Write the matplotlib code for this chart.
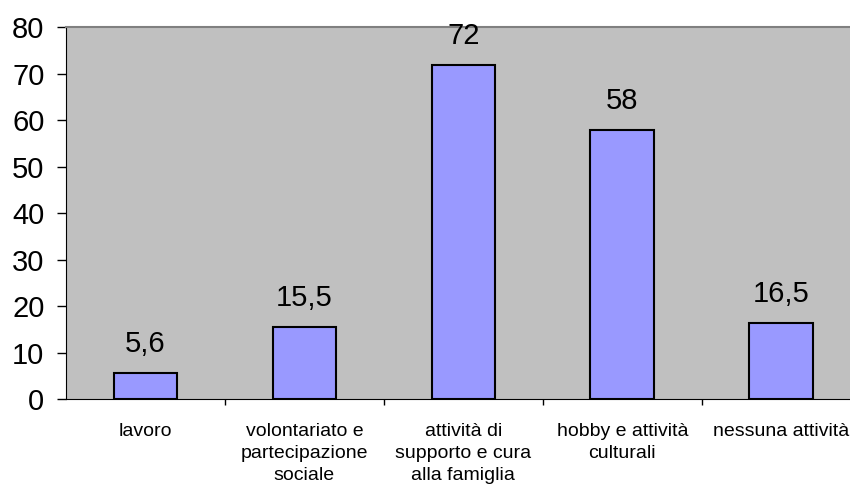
import matplotlib.pyplot as plt
import matplotlib as mpl

mpl.rc('font', family=['Liberation Sans', 'DejaVu Sans'])

# data
categories = ['lavoro', 'volontariato e\npartecipazione\nsociale',
              'attività di\nsupporto e cura\nalla famiglia',
              'hobby e attività\nculturali', 'nessuna attività']
values = [5.6, 15.5, 72, 58, 16.5]
value_labels = ['5,6', '15,5', '72', '58', '16,5']

fig = plt.figure(figsize=(8.5, 4.91), dpi=100)
# plot area runs slightly past the right edge of the image, as in the original
ax = fig.add_axes([0.0776, 0.187, 0.935, 0.757])
ax.set_facecolor('#C0C0C0')

x = list(range(len(categories)))
ax.bar(x, values, width=0.40, color='#9999FF', edgecolor='black', linewidth=1.5, zorder=3)

for xi, v, lab in zip(x, values, value_labels):
    ax.annotate(lab, (xi, v), xytext=(0, 15), textcoords='offset points',
                ha='center', va='baseline', fontsize=21, zorder=4, annotation_clip=False)

ax.set_xlim(-0.5, len(categories) - 0.5)
ax.set_ylim(0, 80)
ax.set_yticks(range(0, 81, 10))
ax.tick_params(axis='y', labelsize=21, length=6.5, width=1, direction='out', pad=9)

# category labels between ticks, ticks at boundaries
ax.set_xticks([i + 0.5 for i in x[:-1]])
ax.set_xticklabels([])
ax.tick_params(axis='x', length=4.5, width=1, direction='out')
for xi, c in zip(x, categories):
    ax.annotate(c, (xi, 0), xytext=(0, -17), textcoords='offset points',
                ha='center', va='top', fontsize=14, linespacing=1.38, annotation_clip=False)

ax.spines['top'].set_color('#808080')
ax.spines['top'].set_linewidth(1.5)
ax.spines['right'].set_visible(False)
ax.spines['left'].set_color('black')
ax.spines['bottom'].set_color('black')

fig.savefig('out.png', dpi=100)
